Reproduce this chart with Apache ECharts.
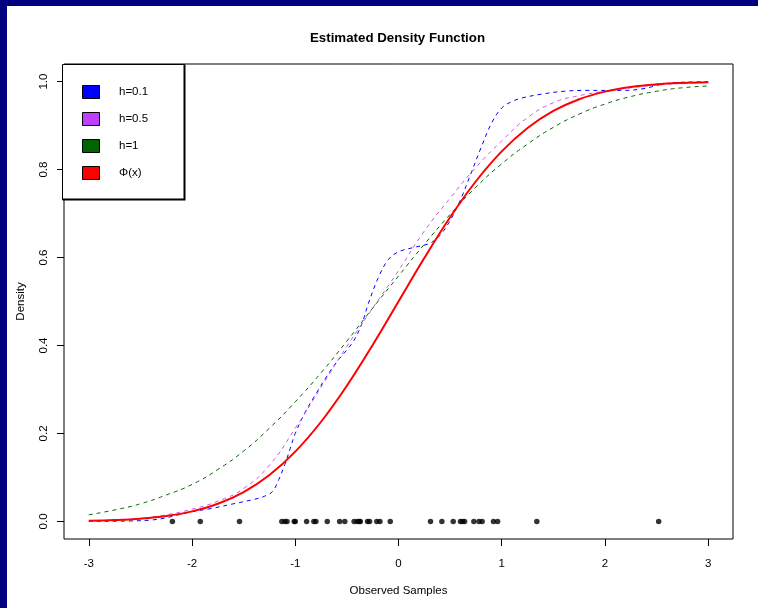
<!DOCTYPE html>
<html>
<head>
<meta charset="utf-8">
<script src="https://cdn.jsdelivr.net/npm/echarts@6/dist/echarts.min.js"></script>
<style>
html,body{margin:0;padding:0;width:758px;height:608px;background:#000080;overflow:hidden;}
#chart{position:absolute;left:7px;top:6px;width:751px;height:602px;background:#ffffff;}
</style>
</head>
<body>
<div id="chart"></div>
<script>
// ---- data ----
const xTicks = [-3, -2, -1, 0, 1, 2, 3];
const yTicks = [0, 0.2, 0.4, 0.6, 0.8, 1.0];

const gridX = [-3,-2.75,-2.5,-2.25,-2,-1.75,-1.5,-1.25,-1,-0.75,-0.5,-0.25,0,0.25,0.5,0.75,1,1.25,1.5,1.75,2,2.25,2.5,2.75,3];

const phiY = [0.0013,0.0030,0.0062,0.0122,0.0228,0.0401,0.0668,0.1056,0.1587,0.2266,0.3085,0.4013,0.5,0.5987,0.6915,0.7734,0.8413,0.8944,0.9332,0.9599,0.9772,0.9878,0.9938,0.9970,0.9987];

const h05Y = [0.001,0.003,0.007,0.015,0.028,0.046,0.075,0.128,0.212,0.305,0.398,0.485,0.57,0.66,0.735,0.805,0.865,0.918,0.952,0.968,0.978,0.986,0.992,0.996,0.998];

const h1Y = [0.015,0.026,0.04,0.06,0.084,0.118,0.16,0.212,0.272,0.338,0.41,0.485,0.558,0.63,0.698,0.76,0.813,0.858,0.896,0.926,0.949,0.966,0.978,0.986,0.99];

const h01X = [-3,-2.6,-2.4,-2.25,-2.15,-2,-1.8,-1.6,-1.4,-1.3,-1.22,-1.16,-1.1,-1.05,-1,-0.9,-0.8,-0.7,-0.6,-0.5,-0.43,-0.35,-0.3,-0.2,-0.1,0,0.15,0.3,0.4,0.5,0.6,0.7,0.8,0.9,1,1.1,1.2,1.4,1.6,1.8,2,2.2,2.35,2.45,2.55,2.7,2.85,3];
const h01Y = [0,0.001,0.003,0.008,0.014,0.022,0.03,0.04,0.05,0.057,0.068,0.095,0.13,0.165,0.2,0.25,0.29,0.328,0.362,0.39,0.412,0.452,0.49,0.552,0.595,0.613,0.623,0.632,0.65,0.684,0.731,0.79,0.85,0.905,0.94,0.955,0.963,0.972,0.978,0.98,0.98,0.98,0.983,0.988,0.994,0.998,0.999,1.0];

const samples = [-2.19,-1.92,-1.54,-1.13,-1.10,-1.08,-1.01,-1.00,-0.89,-0.82,-0.80,-0.69,-0.57,-0.52,-0.43,-0.40,-0.38,-0.37,-0.30,-0.28,-0.21,-0.18,-0.08,0.31,0.42,0.53,0.60,0.62,0.64,0.73,0.78,0.81,0.92,0.96,1.34,2.52];

const seriesNames = ['h=0.1', 'h=0.5', 'h=1', '\u03A6(x)'];
const lineColors = ['#0000FF', '#C857E8', '#006400', '#FF0000'];
const legendFill = ['#0000FF', '#BF3EFF', '#006400', '#FF0000'];

// ---- build ----
const pairs = (xs, ys) => xs.map((x, i) => [x, ys[i]]);
const FONT = 'Liberation Sans, Arial, Helvetica, sans-serif';

const chart = echarts.init(document.getElementById('chart'), null, {renderer: 'canvas'});

const legendGraphics = [];
legendGraphics.push({
  type: 'rect', shape: {x: 55.5, y: 58.5, width: 122, height: 135},
  style: {fill: '#ffffff', stroke: '#000000', lineWidth: 1}, z: 100
});
legendGraphics.push({
  type: 'polyline', shape: {points: [[177.5, 58.5], [177.5, 193.5], [55.5, 193.5]]},
  style: {stroke: '#000000', lineWidth: 2, fill: null}, z: 101
});
seriesNames.forEach((name, i) => {
  legendGraphics.push({
    type: 'rect', shape: {x: 75.5, y: 79.5 + i * 27, width: 17, height: 13},
    style: {fill: legendFill[i], stroke: '#000000', lineWidth: 1}, z: 101
  });
  legendGraphics.push({
    type: 'text', x: 112, y: 86 + i * 27,
    style: {text: name, fill: '#000000', font: '11.5px ' + FONT, textVerticalAlign: 'middle', textAlign: 'left'}, z: 101
  });
});

const dashed = (name, xs, ys, color, sm) => ({
  name: name, type: 'line', data: pairs(xs, ys), symbol: 'none',
  smooth: sm,
  lineStyle: {color: color, width: 1, type: [4, 4]},
  itemStyle: {color: color}, silent: true, animation: false
});

chart.setOption({
  animation: false,
  title: {
    text: 'Estimated Density Function', left: 390.5, top: 26, textAlign: 'center', padding: 0,
    textStyle: {fontFamily: FONT, fontSize: 13.3, fontWeight: 'bold', color: '#000'}
  },
  grid: {left: 55, right: 25, top: 58, bottom: 69, show: true, borderColor: '#000', borderWidth: 1, containLabel: false},
  xAxis: {
    type: 'value', min: -3.24, max: 3.24,
    name: 'Observed Samples', nameLocation: 'middle', nameGap: 46,
    nameTextStyle: {fontFamily: FONT, fontSize: 11.5, color: '#000'},
    axisLine: {show: false, onZero: false},
    axisTick: {show: true, inside: false, length: 7, customValues: xTicks, lineStyle: {color: '#000', width: 1}},
    axisLabel: {customValues: xTicks, margin: 19, fontFamily: FONT, fontSize: 11.5, color: '#000'},
    splitLine: {show: false}
  },
  yAxis: {
    type: 'value', min: -0.04, max: 1.04,
    name: 'Density', nameLocation: 'middle', nameGap: 37, nameRotate: 90,
    nameTextStyle: {fontFamily: FONT, fontSize: 11.5, color: '#000'},
    axisLine: {show: false, onZero: false},
    axisTick: {show: true, inside: false, length: 7, customValues: yTicks, lineStyle: {color: '#000', width: 1}},
    axisLabel: {customValues: yTicks, rotate: 90, margin: 14, fontFamily: FONT, fontSize: 11.5, color: '#000',
      formatter: v => v.toFixed(1)},
    splitLine: {show: false}
  },
  series: [
    dashed(seriesNames[0], h01X, h01Y, lineColors[0], 0.35),
    dashed(seriesNames[1], gridX, h05Y, lineColors[1], 0.5),
    dashed(seriesNames[2], gridX, h1Y, lineColors[2], 0.5),
    {
      name: seriesNames[3], type: 'line', data: pairs(gridX, phiY), symbol: 'none', smooth: 0.4,
      lineStyle: {color: lineColors[3], width: 2}, itemStyle: {color: lineColors[3]}, silent: true
    },
    {
      name: 'samples', type: 'scatter', data: samples.map(x => [x, 0]), symbol: 'circle', symbolSize: 5.5,
      itemStyle: {color: '#000'}, silent: true, z: 5
    }
  ],
  graphic: legendGraphics
});
</script>
</body>
</html>
